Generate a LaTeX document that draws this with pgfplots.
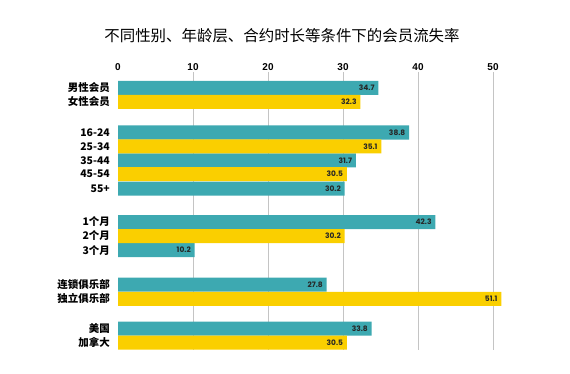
\documentclass[border=0pt]{standalone}
\usepackage{pgfplots}
\pgfplotsset{compat=1.18}
\usepackage{fontspec}
\setmainfont{Noto Sans CJK SC}
\newfontfamily\numfont{Liberation Sans}
\newfontfamily\valfont{Poppins}
\definecolor{tealbar}{HTML}{3DA9B1}
\definecolor{yelbar}{HTML}{FACF00}
\definecolor{gridc}{HTML}{C4C4C4}
\begin{document}
\begin{tikzpicture}
\path (0bp,0bp) rectangle (570bp,374bp);
\node[font=\fontsize{15.5}{16}\selectfont, inner sep=0pt] at (282bp,338bp) {不同性别、年龄层、合约时长等条件下的会员流失率};
\begin{axis}[
  at={(118bp,24bp)}, anchor=south west,
  scale only axis, width=375bp, height=278bp,
  xmin=0, xmax=50, ymin=72, ymax=350, y dir=reverse,
  axis line style={draw=none},
  major tick length=0pt,
  xticklabel pos=upper,
  xtick={10,20,30,40,50},
  extra x ticks={0},
  extra x tick style={grid=none},
  xmajorgrids, grid style={gridc, line width=0.8bp},
  /pgf/number format/assume math mode=true,
  xticklabel style={font=\numfont\bfseries\fontsize{10}{10}\selectfont, anchor=south, inner sep=0pt, yshift=1bp},
  ytick={88,102,132.5,146.3,160.3,174.2,188.5,222,236,250.2,284.7,298.8,328.5,342.5},
  yticklabels={男性会员,女性会员,16-24,25-34,35-44,45-54,55+,1个月,2个月,3个月,连锁俱乐部,独立俱乐部,美国,加拿大},
  yticklabel style={font=\bfseries\fontsize{10.5}{11}\selectfont, anchor=east, inner sep=0pt, xshift=-8bp},
  clip=false,
  point meta=x,
  nodes near coords={\pgfmathprintnumber[fixed,fixed zerofill,precision=1,assume math mode=true]{\pgfplotspointmeta}},
  every node near coord/.append style={anchor=east, inner sep=0pt, xshift=-3.5bp, font=\valfont\bfseries\fontsize{7.5}{8}\selectfont, text=black!85},
]
\addplot[xbar, bar shift=0pt, bar width=14, fill=tealbar, draw=none] coordinates {
(34.7,88) (38.8,132.5) (31.7,160.3) (30.2,188.5) (42.3,222) (10.2,250.2) (27.8,284.7) (33.8,328.5)};
\addplot[xbar, bar shift=0pt, bar width=14, fill=yelbar, draw=none] coordinates {
(32.3,102) (35.1,146.3) (30.5,174.2) (30.2,236) (51.1,298.8) (30.5,342.5)};
\end{axis}
\end{tikzpicture}
\end{document}
